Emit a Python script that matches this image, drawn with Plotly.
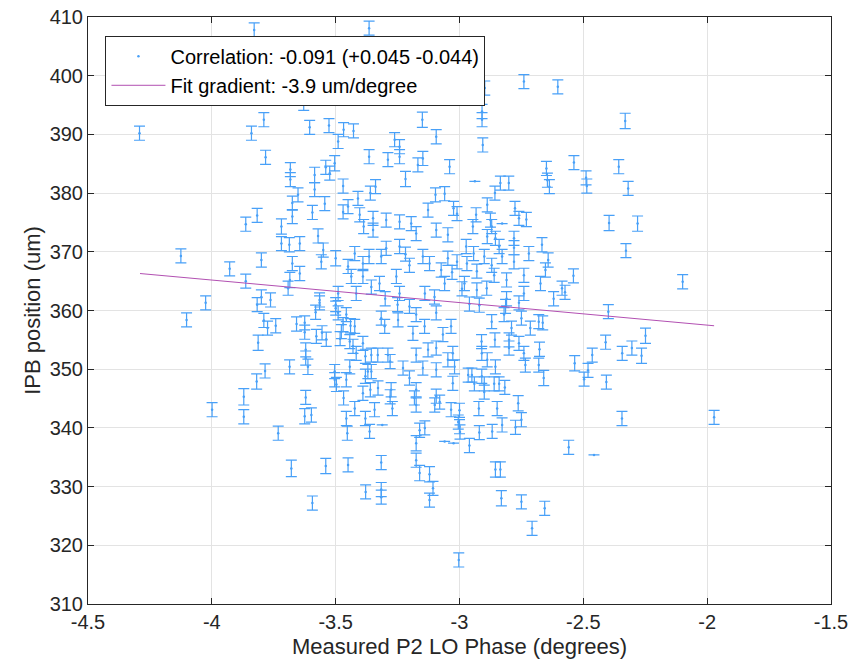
import plotly.graph_objects as go

# ---- data (phase in degrees, IPB position in um) ----
phase_a = [-3.829, -4.056, -4.292, -3.840, -3.790, -3.783, -3.863, -3.817,
           -4.125, -3.800, -3.928, -3.863, -4.025, -3.817, -4.102, -3.790,
           -3.813, -3.785, -3.819, -3.871, -3.999, -3.871, -3.800, -3.775]
pos_a = [407.8, 399.0, 390.2, 390.2, 392.5, 386.1, 374.7, 376.2,
         369.3, 368.6, 367.1, 365.0, 361.3, 361.0, 358.4, 358.3,
         354.5, 349.7, 347.9, 345.3, 343.1, 341.9, 362.3, 357.0]
err_a = [1.2, 1.2, 1.2, 1.2, 1.2, 1.2, 1.2, 1.2,
         1.2, 1.2, 1.2, 1.2, 1.2, 1.2, 1.2, 1.2,
         1.3, 1.2, 1.3, 1.4, 1.2, 1.2, 1.2, 1.2]

phase_b = [-3.497, -3.629, -3.605, -3.527, -3.468, -3.428, -3.490, -3.504,
           -3.540, -3.683, -3.683, -3.585, -3.524, -3.470, -3.585, -3.652,
           -3.675, -3.544, -3.675, -3.594, -3.470, -3.450, -3.410, -3.403,
           -3.719, -3.387, -3.571, -3.719, -3.645, -3.687, -3.550, -3.500,
           -3.423, -3.675, -3.558, -3.450, -3.390, -3.685, -3.645, -3.437,
           -3.390, -3.692, -3.490, -3.417, -3.565, -3.763, -3.500]
pos_b = [396.9, 395.4, 391.2, 391.5, 390.8, 390.6, 388.8, 385.1,
         384.4, 384.0, 382.3, 383.1, 383.4, 381.2, 380.6, 379.7,
         378.3, 378.2, 376.0, 376.7, 376.8, 377.7, 379.1, 376.3,
         374.3, 374.3, 372.7, 371.4, 371.4, 371.2, 370.3, 368.9,
         369.7, 368.0, 368.3, 367.5, 368.0, 365.2, 366.3, 365.8,
         365.8, 363.8, 362.9, 362.9, 361.8, 361.8, 361.0]
err_b = [1.2, 1.3, 1.2, 1.2, 1.2, 1.2, 1.2, 1.3,
         1.2, 1.2, 1.2, 1.3, 1.2, 1.2, 1.2, 1.2,
         1.2, 1.2, 1.2, 1.2, 1.2, 1.2, 1.2, 1.2,
         1.3, 1.2, 1.2, 1.2, 1.2, 1.2, 1.2, 1.3,
         1.2, 1.2, 1.2, 1.2, 1.2, 1.3, 1.2, 1.2,
         1.2, 1.2, 1.2, 1.2, 1.2, 1.2, 1.2]

phase_c = [-3.565, -3.500, -3.490, -3.457, -3.470, -3.477, -3.440, -3.482,
           -3.581, -3.742, -3.658, -3.625, -3.625, -3.578, -3.555, -3.538,
           -3.423, -3.430, -3.390, -3.443, -3.621, -3.621, -3.417, -3.380,
           -3.686, -3.612, -3.443, -3.370, -3.504, -3.504, -3.457, -3.497,
           -3.390, -3.621, -3.468, -3.423, -3.625, -3.598, -3.457, -3.380,
           -3.732, -3.453, -3.679, -3.540, -3.450, -3.379, -3.594]
pos_c = [361.3, 360.4, 359.6, 359.3, 357.6, 356.4, 357.4, 355.2,
         359.7, 357.4, 357.7, 357.9, 356.3, 355.6, 356.2, 355.1,
         357.3, 353.9, 354.4, 354.7, 353.3, 351.9, 352.7, 352.2,
         350.4, 350.4, 350.4, 349.6, 349.6, 348.2, 348.2, 347.4,
         345.9, 345.2, 345.1, 343.3, 342.0, 342.2, 341.6, 341.6,
         339.1, 339.1, 333.1, 333.5, 333.7, 329.1, 327.2]
err_c = [1.2, 1.2, 1.2, 1.2, 1.2, 1.2, 1.2, 1.2,
         1.2, 1.2, 1.2, 1.2, 1.2, 1.2, 1.2, 1.2,
         1.2, 1.2, 1.2, 1.2, 1.2, 1.2, 1.2, 1.2,
         1.2, 1.3, 1.2, 1.2, 1.2, 1.2, 1.2, 1.2,
         1.2, 1.2, 1.2, 1.2, 1.3, 1.2, 1.2, 1.2,
         1.2, 1.2, 1.4, 1.3, 1.2, 1.2, 1.2]

phase_d = [-3.365, -3.316, -3.150, -3.094, -3.262, -3.242, -3.242, -3.365,
           -3.289, -3.148, -3.168, -3.040, -3.218, -3.339, -3.360, -3.097,
           -3.060, -3.024, -3.127, -3.010, -3.349, -3.296, -3.242, -3.195,
           -3.094, -3.047, -3.175, -3.349, -3.296, -3.242, -3.218, -3.316,
           -3.365, -3.148, -3.121, -3.047, -3.010, -3.202, -3.074, -3.030,
           -3.255, -3.323, -3.356, -3.060, -3.242, -3.101, -3.140, -3.300,
           -2.990]
pos_d = [408.1, 397.0, 392.5, 389.6, 389.1, 387.9, 386.2, 386.2,
         385.7, 385.9, 384.8, 384.5, 382.4, 381.1, 380.0, 379.7,
         379.9, 377.4, 377.1, 376.5, 375.7, 375.4, 375.1, 374.8,
         373.7, 372.9, 373.1, 373.7, 370.6, 370.9, 369.6, 369.2,
         369.2, 369.2, 368.0, 368.9, 368.3, 367.7, 366.9, 366.5,
         365.8, 364.6, 364.0, 364.6, 362.9, 362.3, 362.9, 362.0,
         363.7]
err_d = [1.2, 1.2, 1.3, 1.2, 1.2, 1.2, 1.2, 1.2,
         1.2, 1.2, 1.2, 1.2, 1.3, 1.2, 1.2, 1.2,
         1.2, 1.2, 1.2, 1.2, 1.2, 1.2, 1.2, 1.2,
         1.2, 1.2, 1.2, 1.2, 1.2, 1.2, 1.2, 1.2,
         1.2, 1.2, 1.2, 1.2, 1.2, 1.2, 1.2, 1.2,
         1.2, 1.2, 1.2, 1.2, 1.2, 1.2, 1.2, 1.2,
         1.2]

phase_e = [-3.250, -3.202, -3.316, -3.302, -3.248, -3.175, -3.141, -3.094,
           -3.034, -3.188, -3.067, -3.127, -3.175, -3.094, -3.027, -3.289,
           -3.330, -3.356, -3.280, -3.047, -3.020, -3.228, -3.148, -3.094,
           -3.356, -3.380, -3.202, -3.027, -3.329, -3.175, -3.276, -3.360,
           -3.280, -3.182, -3.094, -3.080, -3.271, -3.175, -3.343, -3.100,
           -3.034, -3.000, -3.005, -3.000, -2.998, -3.312, -3.363, -3.161,
           -3.140, -3.175, -3.060, -3.024, -3.316, -3.175, -3.161, -3.121,
           -3.316, -3.316, -3.107, -3.121, -3.003]
pos_e = [361.0, 360.7, 358.7, 357.3, 358.4, 359.3, 357.3, 359.6,
         357.3, 356.1, 355.9, 353.3, 352.4, 353.6, 352.7, 352.4,
         352.4, 352.4, 351.3, 351.6, 350.4, 350.2, 350.2, 349.9,
         349.6, 348.8, 348.5, 347.6, 346.8, 346.5, 346.5, 346.5,
         345.3, 345.1, 345.4, 344.4, 343.3, 343.9, 343.1, 343.9,
         343.1, 343.0, 341.0, 340.2, 339.3, 340.5, 339.4, 339.6,
         340.0, 337.4, 337.7, 337.4, 334.1, 334.5, 332.3, 332.1,
         329.5, 328.2, 329.7, 327.7, 317.5]
err_e = [1.2, 1.2, 1.2, 1.2, 1.2, 1.2, 1.2, 1.2,
         1.2, 1.2, 1.2, 1.2, 1.2, 1.2, 1.2, 1.2,
         1.2, 1.2, 1.2, 1.2, 1.2, 1.2, 1.2, 1.2,
         1.2, 1.2, 1.2, 1.2, 1.2, 1.2, 1.2, 1.2,
         1.2, 1.2, 1.2, 1.2, 1.2, 1.2, 1.2, 1.2,
         1.2, 1.2, 1.2, 1.2, 1.2, 0.0, 1.2, 1.2,
         1.2, 1.3, 0.0, 0.0, 1.2, 1.2, 1.3, 1.3,
         1.2, 1.2, 1.2, 1.2, 1.2]

phase_f = [-2.898, -2.740, -2.603, -2.909, -2.909, -2.906, -2.649, -2.645,
           -2.637, -2.938, -2.835, -2.801, -2.857, -2.888, -2.776, -2.933,
           -2.875, -2.760, -2.730, -2.870, -2.828, -2.946, -2.780, -2.855,
           -2.888, -2.973, -2.943, -2.840, -2.667, -2.780, -2.720, -2.900,
           -2.828, -2.642, -2.970, -2.870, -2.780, -2.653, -2.930, -2.860,
           -2.740, -2.810, -2.673, -2.980, -2.930, -2.890, -2.740, -2.620,
           -2.586, -2.810]
pos_f = [397.9, 399.0, 398.1, 393.9, 392.5, 388.2, 384.2, 382.2,
         381.1, 382.0, 381.7, 381.7, 380.0, 378.0, 377.4, 376.3,
         375.4, 375.7, 375.5, 374.3, 374.8, 374.3, 372.3, 372.3,
         372.6, 370.9, 369.7, 370.9, 371.2, 370.7, 369.7, 369.2,
         369.2, 368.6, 368.0, 367.7, 368.3, 366.9, 366.7, 366.0,
         366.0, 365.2, 364.6, 364.6, 363.5, 363.8, 362.9, 362.0,
         363.8, 362.0]
err_f = [1.2, 1.2, 1.2, 1.2, 1.2, 1.2, 1.2, 1.2,
         1.2, 0.0, 1.2, 1.2, 1.2, 1.2, 1.2, 1.2,
         1.2, 1.2, 1.2, 1.2, 0.0, 1.2, 1.2, 1.2,
         1.2, 1.2, 1.2, 1.2, 1.2, 1.2, 1.2, 1.2,
         1.2, 1.2, 1.2, 1.2, 1.2, 1.2, 1.2, 1.2,
         1.2, 1.2, 1.2, 1.2, 1.2, 1.2, 1.2, 1.2,
         1.2, 1.2]

phase_g = [-2.960, -2.920, -2.814, -2.760, -2.870, -2.820, -2.790, -2.750,
           -2.714, -2.680, -2.664, -2.911, -2.857, -2.800, -2.800, -2.760,
           -2.740, -2.677, -2.910, -2.888, -2.855, -2.734, -2.680, -2.965,
           -2.950, -2.910, -2.660, -2.940, -2.900, -2.860, -2.840, -2.817,
           -2.900, -2.848, -2.922, -2.763, -2.750, -2.828, -2.774, -2.868,
           -2.920, -2.960, -2.855, -2.835, -2.831, -2.750, -2.656, -2.707]
pos_g = [361.1, 360.9, 360.7, 361.3, 358.1, 359.3, 357.0, 358.7,
         357.0, 358.1, 357.9, 354.7, 355.0, 355.0, 353.6, 354.4,
         352.7, 353.4, 352.7, 351.6, 350.4, 350.7, 350.7, 349.0,
         349.0, 348.8, 348.5, 347.5, 347.5, 347.5, 347.5, 346.9,
         346.1, 343.3, 343.3, 344.2, 341.4, 340.5, 340.1, 339.4,
         339.2, 337.0, 332.9, 332.9, 328.0, 327.4, 326.3, 322.9]
err_g = [1.2, 1.2, 1.2, 1.2, 1.2, 1.2, 1.2, 1.2,
         1.2, 1.2, 1.2, 1.2, 1.2, 1.2, 1.2, 1.2,
         1.2, 1.2, 1.2, 1.2, 1.2, 1.2, 1.2, 1.2,
         1.2, 1.2, 1.3, 1.2, 1.2, 1.2, 1.2, 1.2,
         1.2, 1.2, 1.2, 1.3, 1.2, 1.2, 1.2, 1.2,
         1.2, 1.2, 1.3, 1.3, 1.3, 1.2, 1.2, 1.2]

phase_h = [-2.331, -2.538, -2.357, -2.489, -2.486, -2.319, -2.396, -2.281,
           -2.328, -2.540, -2.099, -2.574, -2.399, -2.410, -2.249, -2.464,
           -2.343, -2.304, -2.265, -2.535, -2.481, -2.497, -2.407, -2.344,
           -1.972, -2.559, -2.457]
pos_h = [392.3, 385.2, 384.5, 382.6, 381.2, 380.8, 374.9, 374.8,
         370.2, 365.9, 364.9, 363.1, 359.8, 354.6, 355.7, 352.4,
         352.7, 353.6, 352.3, 351.0, 349.8, 348.3, 347.8, 341.6,
         341.8, 336.7, 335.4]
err_h = [1.3, 1.2, 1.2, 1.2, 1.2, 1.2, 1.3, 1.3,
         1.2, 1.2, 1.2, 1.2, 1.2, 1.2, 1.3, 1.2,
         1.2, 1.2, 1.3, 1.3, 1.2, 1.2, 1.2, 1.2,
         1.2, 1.2, 0.0]

# fit line end points (data range of the linear fit)
fit_phase = [-4.290, -1.972]
fit_pos = [366.3, 357.4]

x_tick_vals = [-4.5, -4.0, -3.5, -3.0, -2.5, -2.0, -1.5]
x_tick_text = ["-4.5", "-4", "-3.5", "-3", "-2.5", "-2", "-1.5"]
y_tick_vals = [310, 320, 330, 340, 350, 360, 370, 380, 390, 400, 410]
y_tick_text = [str(v) for v in y_tick_vals]

legend_scatter = "Correlation: -0.091 (+0.045 -0.044)"
legend_fit = "Fit gradient: -3.9 um/degree"

# ---- assemble ----
groups = [(phase_a, pos_a, err_a), (phase_b, pos_b, err_b), (phase_c, pos_c, err_c),
          (phase_d, pos_d, err_d), (phase_e, pos_e, err_e), (phase_f, pos_f, err_f),
          (phase_g, pos_g, err_g), (phase_h, pos_h, err_h)]
phase, position, error = [], [], []
for p, q, e in groups:
    assert len(p) == len(q) == len(e), (len(p), len(q), len(e))
    phase += p
    position += q
    error += e

BLUE = "rgb(72,160,248)"
PURPLE = "rgb(178,80,178)"
AXC = "#262626"
FONT = "Liberation Sans, Arial, Helvetica, sans-serif"

fig = go.Figure()
fig.add_trace(go.Scatter(
    x=phase, y=position, mode="markers", name=legend_scatter,
    marker=dict(color=BLUE, size=2.5),
    error_y=dict(type="data", array=error, visible=True, color=BLUE,
                 thickness=1.2, width=5.5),
))
fig.add_trace(go.Scatter(
    x=fit_phase, y=fit_pos, mode="lines", name=legend_fit,
    line=dict(color=PURPLE, width=1),
))

axis_common = dict(
    showline=True, linecolor=AXC, linewidth=1, mirror="ticks",
    ticks="inside", ticklen=6, tickcolor=AXC, tickwidth=1,
    showgrid=True, gridcolor="#e3e3e3", gridwidth=1, zeroline=False,
    tickfont=dict(family=FONT, size=20, color=AXC),
)
fig.update_xaxes(range=[-4.5, -1.5], tickvals=x_tick_vals, ticktext=x_tick_text,
                 title=dict(text="Measured P2 LO Phase (degrees)",
                            font=dict(family=FONT, size=22, color=AXC), standoff=6),
                 **axis_common)
fig.update_yaxes(range=[310, 410], tickvals=y_tick_vals, ticktext=y_tick_text,
                 title=dict(text="IPB position (um)",
                            font=dict(family=FONT, size=22, color=AXC), standoff=2),
                 **axis_common)

fig.update_layout(
    width=859, height=659,
    margin=dict(l=88, r=28, t=17, b=55, autoexpand=False),
    plot_bgcolor="white", paper_bgcolor="white",
    font=dict(family=FONT, color=AXC),
    showlegend=True,
    legend=dict(x=0.0235, y=0.968, xanchor="left", yanchor="top",
                bgcolor="white", bordercolor=AXC, borderwidth=1,
                font=dict(family=FONT, size=20, color="black"),
                itemwidth=54, tracegroupgap=0),
)

fig.write_html("out.html")
